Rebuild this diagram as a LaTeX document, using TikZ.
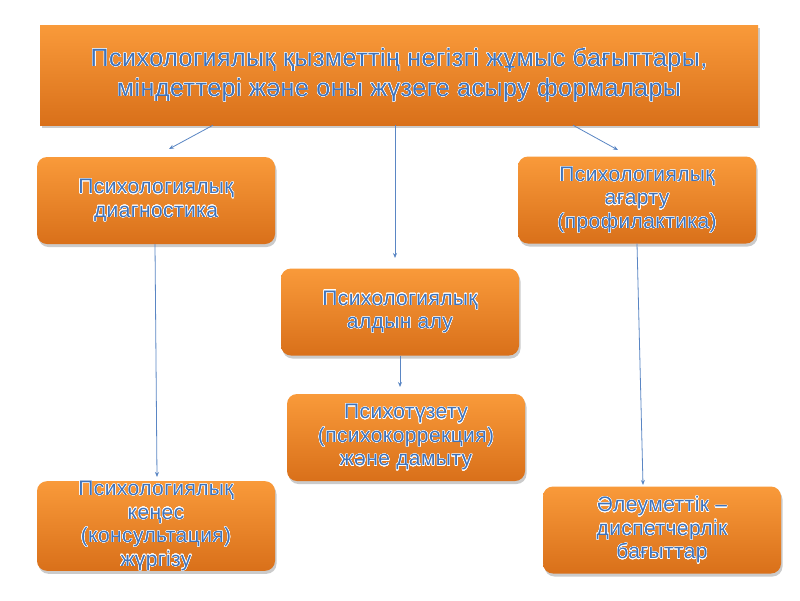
\documentclass[tikz,border=0pt]{standalone}
\usepackage{fontspec}
\setmainfont{Liberation Sans}[LetterSpace=2]
\usepackage{contour}
\contourlength{0.35pt}
\contournumber{24}
\usetikzlibrary{shadows,arrows.meta}
\definecolor{txtblue}{HTML}{4073BA}
\definecolor{arrblue}{HTML}{5A86C4}
\definecolor{orTop}{HTML}{F99A3A}
\definecolor{orBot}{HTML}{D9701A}
\newcommand{\gl}[1]{\contour{white}{#1}}
\tikzset{
  boxbase/.style={draw=none, top color=orTop, bottom color=orBot, align=center,
    text=txtblue, inner sep=0pt,
    drop shadow={shadow xshift=1.5pt, shadow yshift=-3pt, fill=black!40, opacity=0.5}},
  headbox/.style={boxbase, minimum width=718pt, minimum height=100pt,
    font=\fontsize{25}{30}\selectfont},
  smallbox/.style={boxbase, rounded corners=10pt, minimum width=238pt, minimum height=87pt,
    font=\fontsize{21}{23.5}\selectfont},
  arr/.style={draw=arrblue, line width=0.8pt, -{Stealth[length=5pt,width=4pt]}}
}
\begin{document}
\begin{tikzpicture}[x=1pt,y=-1pt]
\useasboundingbox[fill=white] (0,0) rectangle (800,600);
\node[headbox] (top) at (399,75) {\gl{Психологиялық қызметтің негізгі жұмыс бағыттары,}\\\gl{міндеттері және оны жүзеге асыру формалары}};
\node[smallbox] (diag) at (156,200.5) {\gl{Психологиялық}\\\gl{диагностика}};
\node[smallbox] (agartu) at (637,200) {\gl{Психологиялық}\\\gl{ағарту}\\\gl{(профилактика)}};
\node[smallbox] (aldyn) at (400,312) {\gl{Психологиялық}\\\gl{алдын алу}};
\node[smallbox] (tuzetu) at (406,437.5) {\gl{Психотүзету}\\\gl{(психокоррекция)}\\\gl{және дамыту}};
\node[smallbox] (kenes) at (156,526) {\gl{Психологиялық}\\\gl{кеңес}\\\gl{(консультация)}\\\gl{жүргізу}};
\node[smallbox] (aleum) at (662,530) {\gl{Әлеуметтік –}\\\gl{диспетчерлік}\\\gl{бағыттар}};
\coordinate (e1) at (169,149);
\coordinate (e2) at (395,258);
\coordinate (e3) at (618,150);
\coordinate (e4) at (157,477);
\coordinate (e5) at (400,387);
\coordinate (e6) at (643,485);
\draw[arr] ([xshift=-186pt]top.south) -- (e1);
\draw[arr] ([xshift=-4pt]top.south) -- (e2);
\draw[arr] ([xshift=174pt]top.south) -- (e3);
\draw[arr] ([xshift=-1pt]diag.south) -- (e4);
\draw[arr] (aldyn.south) -- (e5);
\draw[arr] (agartu.south) -- (e6);
\end{tikzpicture}
\end{document}
